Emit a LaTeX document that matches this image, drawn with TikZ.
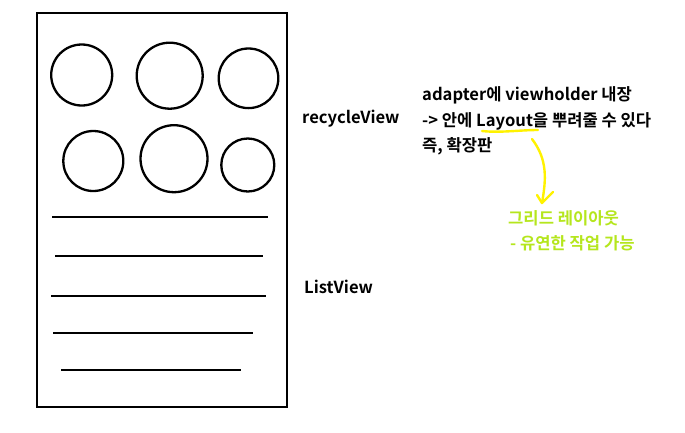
\documentclass[tikz,border=0pt]{standalone}
\usepackage{fontspec}
\setmainfont{Noto Sans CJK KR}[BoldFont={Noto Sans CJK KR Bold}]
\definecolor{paintyellow}{HTML}{FFF200}
\definecolor{paintlime}{HTML}{B5E61D}
\begin{document}
\begin{tikzpicture}[x=1pt,y=-1pt,
  outline/.style={draw=black,line width=2.8pt},
  bubble/.style={draw=black,line width=2.3pt},
  row/.style={draw=black,line width=2.8pt},
  lbl/.style={anchor=west,inner sep=0pt,font=\fontsize{16.6}{18}\selectfont\bfseries},
  note/.style={anchor=west,inner sep=0pt,font=\fontsize{16.6}{18}\selectfont\bfseries},
  marker/.style={draw=paintyellow,line width=2.4pt,line cap=round,line join=round}]
\useasboundingbox (0,0) rectangle (685,432);
\fill[white] (0,0) rectangle (685,432);
\draw[outline] (37,13) rectangle (287,407);
% circles
\draw[bubble] (81.7,75) circle (30.5);
\draw[bubble] (169.7,75.7) circle (33);
\draw[bubble] (248.5,78.3) circle (29.8);
\draw[bubble] (93.3,161) circle (30);
\draw[bubble] (174,158.7) circle (33.5);
\draw[bubble] (247.8,165) circle (26.5);
% list rows
\draw[row] (52,217) -- (268,217);
\draw[row] (55,256) -- (263,256);
\draw[row] (51,296) -- (266,296);
\draw[row] (53,333) -- (253,333);
\draw[row] (61,370) -- (241,370);
% labels
\node[lbl] (rv) at (302,119) {recycleView};
\node[lbl] (lv) at (304,287) {ListView};
\node[note] (n1) at (422,95) {adapter에 viewholder 내장};
\node[note] (n2) at (422,121) {-{}> 안에 Layout을 뿌려줄 수 있다};
\node[note] (n3) at (422,146) {즉, 확장판};
\node[note,text=paintlime] (g1) at (508,218) {그리드 레이아웃};
\node[note,text=paintlime] (g2) at (510,243) {- 유연한 작업 가능};
% yellow marks
\coordinate (u1) at (482,131);
\coordinate (u2) at (538,130);
\coordinate (a0) at (532,139);
\coordinate (tip) at (542,203);
\draw[marker] (u1) .. controls (500,133) and (520,130) .. (u2);
\draw[marker] (a0) .. controls (548,160) and (546,180) .. (tip);
\draw[marker] (537,195) -- (tip) -- (553,192);
\end{tikzpicture}
\end{document}
